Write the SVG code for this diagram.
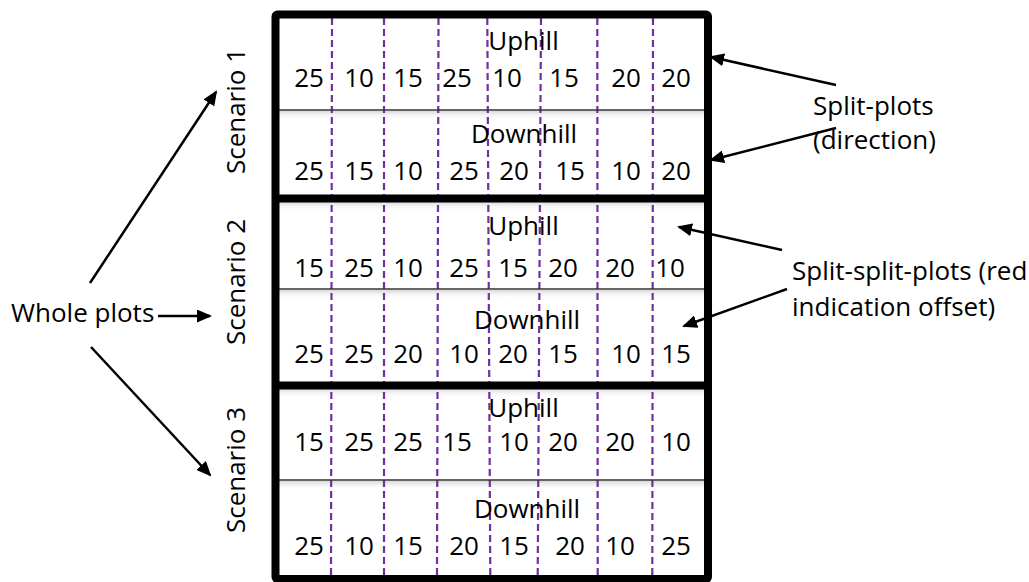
<svg xmlns="http://www.w3.org/2000/svg" width="1029" height="582" viewBox="0 0 1029 582">
<style>
text{font-family:"Open Sans","Noto Sans","Liberation Sans",sans-serif;font-size:26px;fill:#000}
.n{text-anchor:middle}
.c{text-anchor:middle}
.dash{stroke:#7030A0;stroke-width:2.2;stroke-dasharray:7 4;fill:none}
.thin{stroke:#333;stroke-width:1.3}
.thick{stroke:#000;stroke-width:8;fill:none}
.arr{stroke:#000;stroke-width:2.5;fill:none;marker-end:url(#ah)}
</style>
<defs>
<marker id="ah" markerWidth="15" markerHeight="13" refX="13" refY="6.5" orient="auto" markerUnits="userSpaceOnUse">
<path d="M0,0 L15,6.5 L0,13 Z" fill="#000"/>
</marker>
<linearGradient id="sh" x1="0" y1="0" x2="0" y2="1">
<stop offset="0" stop-color="#d8d8d8"/>
<stop offset="1" stop-color="#fff" stop-opacity="0"/>
</linearGradient>
</defs>
<rect width="1029" height="582" fill="#fff"/>

<g id="grid">
<rect x="279" y="111" width="425" height="9" fill="url(#sh)"/>
<rect x="279" y="290" width="425" height="9" fill="url(#sh)"/>
<rect x="279" y="481" width="425" height="9" fill="url(#sh)"/>
<rect x="279" y="202" width="425" height="9" fill="url(#sh)"/>
<rect x="279" y="389" width="425" height="9" fill="url(#sh)"/>
<line class="dash" x1="332" y1="18" x2="331" y2="576"/>
<line class="dash" x1="384" y1="18" x2="384" y2="576"/>
<line class="dash" x1="438.5" y1="18" x2="437" y2="576"/>
<line class="dash" x1="487.3" y1="18" x2="490.3" y2="576"/>
<line class="dash" x1="541" y1="18" x2="537.7" y2="576"/>
<line class="dash" x1="597.3" y1="18" x2="597.7" y2="576"/>
<line class="dash" x1="653" y1="18" x2="652.3" y2="576"/>
<line class="thin" x1="279" y1="110" x2="704" y2="110"/>
<line class="thin" x1="279" y1="289" x2="704" y2="289"/>
<line class="thin" x1="279" y1="480" x2="704" y2="480"/>
<rect class="thick" x="275.5" y="14.5" width="432.5" height="564.5" rx="2"/>
<line class="thick" x1="279" y1="198.5" x2="704" y2="198.5"/>
<line class="thick" x1="279" y1="385.5" x2="704" y2="385.5"/>
</g>

<g id="scenario1">
<text x="245" y="111" class="c" transform="rotate(-90 245 111)">Scenario 1</text>
<text x="523.5" y="50" class="c">Uphill</text>
<text class="n" y="87"><tspan x="309">25</tspan><tspan x="359">10</tspan><tspan x="408">15</tspan><tspan x="457">25</tspan><tspan x="507">10</tspan><tspan x="564">15</tspan><tspan x="626">20</tspan><tspan x="676">20</tspan></text>
<text x="524" y="143" class="c">Downhill</text>
<text class="n" y="180"><tspan x="309">25</tspan><tspan x="359">15</tspan><tspan x="408">10</tspan><tspan x="464">25</tspan><tspan x="514">20</tspan><tspan x="570">15</tspan><tspan x="626">10</tspan><tspan x="676">20</tspan></text>
</g>

<g id="scenario2">
<text x="245" y="282" class="c" transform="rotate(-90 245 282)">Scenario 2</text>
<text x="523.5" y="235" class="c">Uphill</text>
<text class="n" y="277"><tspan x="309">15</tspan><tspan x="359">25</tspan><tspan x="408">10</tspan><tspan x="464">25</tspan><tspan x="513">15</tspan><tspan x="563">20</tspan><tspan x="620">20</tspan><tspan x="670">10</tspan></text>
<text x="527" y="329" class="c">Downhill</text>
<text class="n" y="363"><tspan x="309">25</tspan><tspan x="359">25</tspan><tspan x="408">20</tspan><tspan x="464">10</tspan><tspan x="513">20</tspan><tspan x="563">15</tspan><tspan x="626">10</tspan><tspan x="676">15</tspan></text>
</g>

<g id="scenario3">
<text x="245" y="470" class="c" transform="rotate(-90 245 470)">Scenario 3</text>
<text x="523.5" y="417" class="c">Uphill</text>
<text class="n" y="451"><tspan x="309">15</tspan><tspan x="359">25</tspan><tspan x="408">25</tspan><tspan x="457">15</tspan><tspan x="514">10</tspan><tspan x="563">20</tspan><tspan x="620">20</tspan><tspan x="676">10</tspan></text>
<text x="527" y="518" class="c">Downhill</text>
<text class="n" y="555"><tspan x="309">25</tspan><tspan x="359">10</tspan><tspan x="408">15</tspan><tspan x="464">20</tspan><tspan x="514">15</tspan><tspan x="570">20</tspan><tspan x="620">10</tspan><tspan x="676">25</tspan></text>
</g>

<g id="whole-plots">
<text x="11" y="322">Whole plots</text>
</g>
<g id="split-plots">
<text x="813" y="115">Split-plots</text>
<text x="813" y="149">(direction)</text>
</g>
<g id="split-split-plots">
<text x="792" y="280">Split-split-plots (red</text>
<text x="792" y="316">indication offset)</text>
</g>

<g id="connectors">
<line class="arr" x1="90" y1="283" x2="216" y2="92"/>
<line class="arr" x1="158" y1="316" x2="210" y2="316"/>
<line class="arr" x1="91" y1="347" x2="210" y2="475"/>
<line class="arr" x1="836" y1="85" x2="711" y2="57"/>
<line class="arr" x1="836" y1="128" x2="711" y2="160"/>
<line class="arr" x1="782" y1="250" x2="679" y2="227"/>
<line class="arr" x1="787" y1="289" x2="684" y2="326"/>
</g>
</svg>
